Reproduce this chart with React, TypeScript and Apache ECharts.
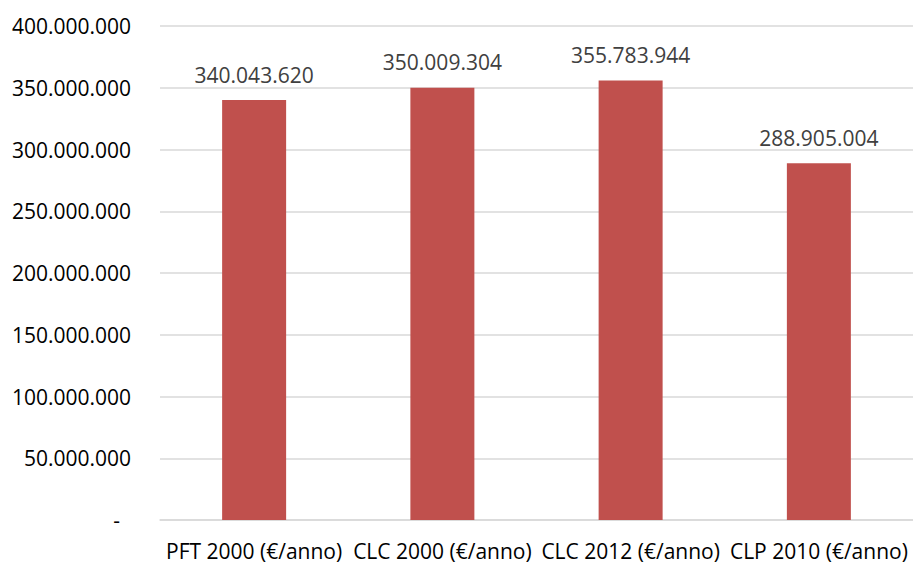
import React, { useEffect, useRef } from "react";
import * as echarts from "echarts";

const categories = [
  "PFT 2000 (€/anno)",
  "CLC 2000 (€/anno)",
  "CLC 2012 (€/anno)",
  "CLP 2010 (€/anno)",
];
const values = [340043620, 350009304, 355783944, 288905004];
const yTicks = { min: 0, max: 400000000, interval: 50000000 };

function fmt(v: number): string {
  if (v === 0) return "-";
  return Math.round(v)
    .toString()
    .replace(/\B(?=(\d{3})+(?!\d))/g, ".");
}

export default function App() {
  const ref = useRef<HTMLDivElement>(null);
  useEffect(() => {
    if (!ref.current) return;
    const chart = echarts.init(ref.current, undefined, { renderer: "svg" });
    chart.setOption({
      animation: false,
      grid: { left: 160, right: -6, top: 26, bottom: 43, containLabel: false },
      xAxis: {
        type: "category",
        data: categories,
        axisLine: { show: true, lineStyle: { color: "#D9D9D9", width: 1.5 } },
        axisTick: { show: false },
        axisLabel: {
          color: "#000000",
          fontFamily: "Open Sans",
          fontSize: 21,
          margin: 20,
          interval: 0,
        },
      },
      yAxis: {
        type: "value",
        min: yTicks.min,
        max: yTicks.max,
        interval: yTicks.interval,
        axisLine: { show: false },
        axisTick: { show: false },
        splitLine: { lineStyle: { color: "#D9D9D9", width: 1.5 } },
        axisLabel: {
          color: "#000000",
          fontFamily: "Open Sans",
          fontSize: 21,
          margin: 29,
          formatter: (v: number) => (v === 0 ? "-  " : fmt(v)),
        },
      },
      series: [
        {
          type: "bar",
          data: values,
          barWidth: 64,
          itemStyle: { color: "#C0504D" },
          label: {
            show: true,
            position: "top",
            distance: 15,
            color: "#404040",
            fontFamily: "Open Sans",
            fontSize: 21,
            formatter: (p: any) => fmt(p.value),
          },
        },
      ],
    });
    return () => chart.dispose();
  }, []);
  return <div ref={ref} style={{ width: 913, height: 563, position: "absolute", left: 0, top: 0 }} />;
}
